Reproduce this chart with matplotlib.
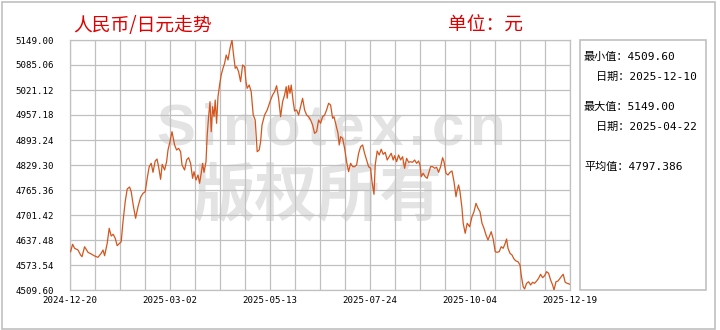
import numpy as np
import matplotlib
matplotlib.use("Agg")
import matplotlib.pyplot as plt
from matplotlib.patches import Rectangle
from matplotlib.transforms import IdentityTransform

plt.rcParams['font.family'] = ['DejaVu Sans Mono', 'Noto Sans CJK SC']

# trading-day index (0 = 2024-12-20, 250 = 2025-12-19) and CNY/JPY level
day_idx = [
    0.3, 1.3, 2.3, 4.0, 5.3, 6.0, 7.3, 9.0, 10.6, 12.3, 14.0, 15.6, 16.5, 17.3, 18.6,
    19.6, 20.6, 21.6, 22.6, 23.6, 24.8, 25.6, 26.5, 27.6, 28.6, 29.8, 30.6, 31.6, 32.8,
    34.0, 35.3, 36.5, 37.6, 38.6, 39.6, 40.6, 41.5, 42.6, 43.5, 44.3, 45.3, 46.1, 47.3,
    48.3, 49.0, 50.0, 51.0,
    52.3, 53.3, 54.3, 55.3, 56.0, 57.3, 58.3, 59.3, 60.3, 61.3, 62.0, 63.0, 64.0, 64.8,
    65.6, 66.3, 67.0, 68.0, 68.6, 69.3, 70.0, 70.6, 71.3, 72.0, 72.6, 73.3, 74.0, 74.8,
    75.6, 76.5, 77.3, 78.1, 79.0, 80.0, 81.0, 81.6, 82.6, 83.3, 84.3, 85.3, 86.3, 87.3,
    88.0, 88.6, 89.6, 90.6, 91.6, 92.6, 93.6, 94.6, 95.3, 96.0, 97.3, 98.6,
    100.3, 101.3, 102.3, 103.3, 104.3, 105.3, 106.3, 107.3, 108.1, 108.6, 109.3, 110.0,
    110.6, 111.6, 112.3, 113.3, 114.3, 115.3, 116.3, 117.3, 118.3, 119.3, 120.3, 121.3,
    122.3, 123.3, 124.3, 125.3, 126.3, 127.3, 128.3, 129.3, 130.3, 131.3, 132.0, 133.0,
    134.0, 134.6, 135.3, 136.3, 137.3, 138.3, 139.3, 140.3, 141.3, 142.3, 143.3, 144.3,
    145.3, 146.3, 147.3, 148.3, 149.3,
    150.3, 151.0, 152.0, 152.6, 153.6, 154.6, 155.6, 156.6, 157.6, 158.6, 159.6, 160.6,
    161.6, 162.3, 163.3, 164.3, 165.3, 166.3, 167.3, 168.3, 169.3, 170.3, 171.3, 172.3,
    173.3, 174.3, 175.0, 175.6, 176.6, 177.6, 178.6, 179.6, 180.3, 181.3, 182.3, 183.3,
    184.3, 185.3, 186.3, 187.0, 188.0, 189.0, 190.0, 191.0, 192.0, 193.0, 193.6, 194.3,
    195.0, 196.0, 196.6, 197.6, 198.6,
    199.8, 201.0, 202.0, 203.0, 204.0, 205.0, 206.0, 207.0, 208.0, 209.0, 210.0, 210.6,
    211.6, 212.6, 213.6, 214.6, 215.6, 216.6, 217.6, 218.3, 219.0, 220.0, 221.0, 222.0,
    223.0, 224.0, 225.0, 225.6, 226.6, 227.3, 228.3, 229.3, 230.3, 231.3, 232.3, 233.3,
    234.3, 235.3, 236.3, 237.3, 238.3, 239.3, 240.3, 241.3, 242.0, 243.0, 244.0, 245.0,
    246.0, 246.6, 247.6, 248.6, 250.0,
]
rate = [
    4607.6, 4626.5, 4616.3, 4611.9, 4599.1, 4594.8, 4620.3, 4606.0, 4601.7, 4596.6, 4593.2,
    4603.5, 4611.9, 4597.3, 4629.0, 4667.4, 4647.7, 4652.1, 4641.8, 4622.9, 4629.0, 4633.1,
    4684.3, 4735.4, 4767.9, 4773.0, 4761.0, 4727.0, 4693.0, 4722.6, 4746.7, 4756.9, 4761.0,
    4795.3, 4825.0, 4833.6, 4810.6, 4839.5, 4844.6, 4825.0, 4792.7, 4831.1, 4816.5, 4837.7,
    4867.7, 4888.9, 4914.5,
    4880.5, 4867.7, 4872.0, 4863.3, 4829.3, 4816.5, 4842.1, 4848.0, 4833.6, 4795.3, 4812.2,
    4790.9, 4803.7, 4782.5, 4808.1, 4833.6, 4810.6, 4837.7, 4906.0, 4952.8, 4991.2, 4914.5,
    4978.4, 4952.8, 4995.5, 4936.0, 5004.0, 5033.9, 5059.5, 5076.6, 5089.4, 5110.6, 5097.9,
    5127.8, 5149.0, 5119.1, 5076.6, 5080.7, 5067.9, 5042.4, 5085.1, 5080.7, 5042.4, 5025.5,
    5033.9, 5016.8, 4957.2, 4944.4, 4863.3, 4867.7, 4888.9, 4931.6, 4957.2, 4970.0,
    4995.5, 5008.3, 5016.8, 5032.1, 4999.9, 4952.8, 4991.2, 5008.3, 5029.6, 4999.9, 5032.1,
    5012.7, 5033.9, 4991.2, 4967.4, 4970.0, 4957.2, 4978.4, 4999.9, 4970.0, 4957.2, 4952.8,
    4944.4, 4931.6, 4910.4, 4914.5, 4944.4, 4936.0, 4952.8, 4957.2, 4970.0, 4987.1, 4982.8,
    4948.7, 4952.8, 4931.6, 4910.4, 4880.5, 4901.7, 4897.6, 4872.0, 4837.7, 4812.2, 4833.6,
    4825.0, 4825.0, 4829.3, 4859.2, 4876.1, 4880.5, 4859.2, 4842.1, 4825.0,
    4820.9, 4786.6, 4754.4, 4829.3, 4865.1, 4854.9, 4869.5, 4856.7, 4861.8, 4842.1, 4850.5,
    4859.2, 4842.1, 4853.1, 4837.7, 4854.9, 4842.1, 4850.5, 4820.9, 4846.4, 4836.2, 4837.7,
    4836.2, 4842.1, 4833.6, 4839.5, 4829.3, 4799.4, 4808.1, 4799.4, 4795.3, 4812.2, 4825.0,
    4825.0, 4820.9, 4823.4, 4810.6, 4825.0, 4848.0, 4837.7, 4808.1, 4803.7, 4810.6, 4814.0,
    4786.6, 4748.2, 4765.4, 4778.2, 4761.0, 4718.6, 4680.2, 4654.6, 4680.2,
    4671.5, 4697.1, 4709.9, 4731.3, 4718.6, 4709.9, 4680.2, 4667.4, 4650.3, 4637.5, 4650.3,
    4658.7, 4640.0, 4607.6, 4606.0, 4607.6, 4620.3, 4616.3, 4629.0, 4640.0, 4616.3, 4603.5,
    4599.1, 4588.9, 4583.8, 4582.0, 4573.5, 4548.0, 4518.0, 4512.2, 4526.7, 4530.8, 4522.4,
    4529.3, 4526.7, 4532.6, 4539.5, 4549.8, 4541.1, 4546.2, 4556.4, 4552.3, 4535.2, 4522.4,
    4509.6, 4530.8, 4532.6, 4539.5, 4546.2, 4549.8, 4529.3, 4526.7, 4524.2,
]

y_ticks = [4509.60, 4573.54, 4637.48, 4701.42, 4765.36, 4829.30,
           4893.24, 4957.18, 5021.12, 5085.06, 5149.00]
x_ticks = [0, 50, 100, 150, 200, 250]
x_labels = ['2024-12-20', '2025-03-02', '2025-05-13', '2025-07-24', '2025-10-04', '2025-12-19']

stats = [('最小值：4509.60', 584, 57), ('日期：2025-12-10', 596, 77),
         ('最大值：5149.00', 584, 107), ('日期：2025-04-22', 596, 127),
         ('平均值：4797.386', 584, 167)]

W, H = 720, 330
grid_c = '#c0c0c0'
red = '#e00000'

fig = plt.figure(figsize=(W / 100, H / 100), dpi=100)
fig.patch.set_facecolor('white')
fig.patches.append(Rectangle((2 / W, 1 / H), 713 / W, 327 / H, transform=fig.transFigure,
                             fill=False, edgecolor=grid_c, lw=1.2))

ax = fig.add_axes([70 / W, 40 / H, 500 / W, 250 / H])
ax.plot(day_idx, rate, color='#d4561f', lw=0.9, zorder=3)
ax.set_xlim(0, 250)
ax.set_ylim(y_ticks[0], y_ticks[-1])
ax.set_yticks(y_ticks)
ax.set_yticklabels(['%.2f' % v for v in y_ticks])
ax.set_xticks(x_ticks)
ax.set_xticklabels(x_labels)
ax.set_xticks(np.arange(0, 251, 12.5), minor=True)
ax.tick_params(which='both', length=0)
ax.tick_params(axis='y', pad=11.5, labelsize=6.6)
ax.tick_params(axis='x', pad=4, labelsize=6.6)
ax.set_axisbelow(True)
ax.grid(True, which='both', color=grid_c, lw=0.9)
for s in ax.spines.values():
    s.set_color(grid_c)
    s.set_linewidth(0.9)

# watermark, under the grid
wm = '#e3e3e3'
renderer = fig.canvas.get_renderer()
x = 156
for ch in 'Sinotex.cn':
    t = ax.text(x, H - 130, ch, transform=IdentityTransform(), fontsize=42, color=wm,
                family='Liberation Sans', weight='bold', va='center', ha='left', zorder=0.3)
    x = t.get_window_extent(renderer).x1 + 6
ax.text(318, H - 197, '版权所有', transform=IdentityTransform(), fontsize=45, color=wm,
        family='Noto Sans CJK SC', weight='bold', va='center', ha='center', zorder=0.3)

fig.text(73 / W, 1 - 25 / H, '人民币/日元走势', color=red, fontsize=13.5,
         family=['Noto Sans CJK SC', 'DejaVu Sans'], va='center', ha='left')
fig.text(448 / W, 1 - 25 / H, '单位：元', color=red, fontsize=13.5,
         family=['Noto Sans CJK SC', 'DejaVu Sans'], va='center', ha='left')

fig.patches.append(Rectangle((580 / W, 40 / H), 126 / W, 250 / H, transform=fig.transFigure,
                             fill=False, edgecolor=grid_c, lw=1.2))
for s, px, py in stats:
    fig.text(px / W, 1 - py / H, s, fontsize=8, color='black', va='center', ha='left')

fig.savefig('out.png', dpi=100)
